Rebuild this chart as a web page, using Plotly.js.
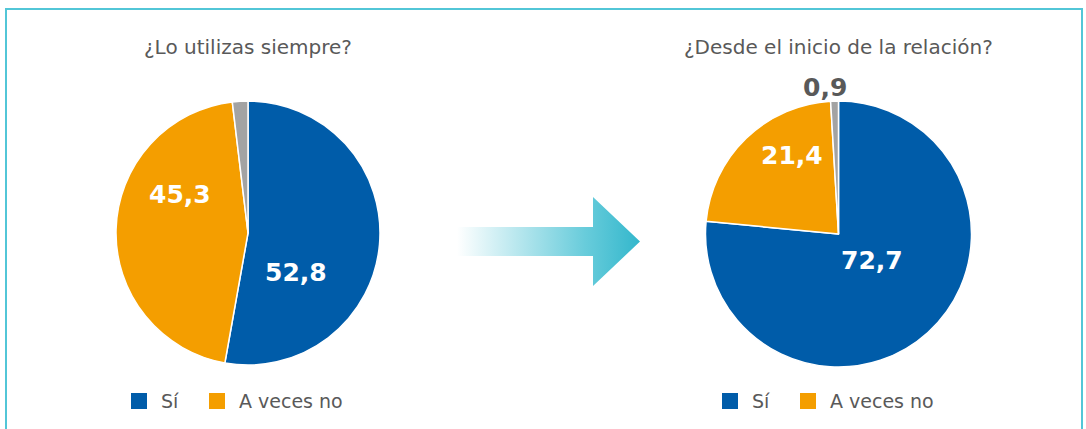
<!DOCTYPE html>
<html>
<head>
<meta charset="utf-8">
<script src="https://cdn.plot.ly/plotly-3.0.1.min.js"></script>
<style>
  html, body { margin: 0; padding: 0; background: #ffffff; }
  #chart { width: 1086px; height: 429px; }
</style>
</head>
<body>
<div id="chart"></div>
<script>
// ---- data ----
const categories = ['Sí', 'A veces no', 'Otros'];
const leftValues = [52.8, 45.3, 1.9];
const rightValues = [72.7, 21.4, 0.9];
const chartTitles = ['¿Lo utilizas siempre?', '¿Desde el inicio de la relación?'];
const legendLabels = ['Sí', 'A veces no'];
const leftShown = [true, true, false];
const rightShown = [true, true, true];

// ---- styles ----
const sliceColors = ['#005CA9', '#F49E00', '#A3A3A3'];
const textGrey = '#595959';
const fontFamily = '"DejaVu Sans", Verdana, sans-serif';
const W = 1086, H = 429;

function pieDomain(cx, cy, r) {
  return {
    x: [(cx - r) / W, (cx + r) / W],
    y: [(H - cy - r) / H, (H - cy + r) / H]
  };
}
const fmt = v => v.toFixed(1).replace('.', ',');

const leftPie = {
  type: 'pie',
  labels: categories,
  values: leftValues,
  sort: false,
  direction: 'clockwise',
  rotation: 0,
  domain: pieDomain(248, 233, 132),
  marker: { colors: sliceColors, line: { color: '#ffffff', width: 1.5 } },
  textinfo: 'none',
  showlegend: false,
  hoverinfo: 'label+value'
};

const rightPie = {
  type: 'pie',
  labels: categories,
  values: rightValues,
  sort: false,
  direction: 'clockwise',
  rotation: 0,
  domain: pieDomain(838.5, 234, 133),
  marker: { colors: sliceColors, line: { color: '#ffffff', width: 1.5 } },
  textinfo: 'none',
  showlegend: false,
  hoverinfo: 'label+value'
};

// decorative arrow (gradient) on a hidden pixel-mapped axis
const arrow = {
  type: 'scatter',
  x: [457, 593, 593, 640, 593, 593, 457, 457],
  y: [227, 227, 197, 241.5, 286, 256, 256, 227],
  mode: 'lines',
  line: { width: 0, color: 'rgba(0,0,0,0)' },
  fill: 'toself',
  fillgradient: {
    type: 'horizontal',
    colorscale: [[0, 'rgba(255,255,255,1)'], [0.7, '#68CCDB'], [1, '#33B7CC']]
  },
  hoverinfo: 'skip',
  showlegend: false
};

const shapes = [
  { type: 'rect', xref: 'x', yref: 'y', x0: 6, x1: 1082, y0: 9, y1: 445,
    line: { color: '#52C6D7', width: 2 }, fillcolor: 'rgba(0,0,0,0)', layer: 'below' }
];
const annotations = [];

// titles
[[248, chartTitles[0]], [838.5, chartTitles[1]]].forEach(([cx, t]) => {
  annotations.push({
    xref: 'x', yref: 'y', x: cx, y: 47, text: t, showarrow: false,
    xanchor: 'center', yanchor: 'middle',
    font: { family: fontFamily, size: 20, color: textGrey }
  });
});

// value labels (positions as in the original)
const leftLabelPos = [[296, 272], [179.5, 194], null];
const rightLabelPos = [[871.5, 260.5], [792, 155], [825, 87]];
const labelColors = ['#ffffff', '#ffffff', textGrey];
function addLabels(values, shown, pos) {
  values.forEach((v, i) => {
    if (!shown[i] || !pos[i]) return;
    annotations.push({
      xref: 'x', yref: 'y', x: pos[i][0], y: pos[i][1], text: fmt(v), showarrow: false,
      xanchor: 'center', yanchor: 'middle',
      font: { family: fontFamily, size: 25, color: labelColors[i], weight: 'bold' }
    });
  });
}
addLabels(leftValues, leftShown, leftLabelPos);
addLabels(rightValues, rightShown, rightLabelPos);

// legends (one below each pie)
const legendStarts = [131, 722];
legendStarts.forEach((x0) => {
  const offsets = [0, 78];
  legendLabels.forEach((lab, i) => {
    const sx = x0 + offsets[i];
    shapes.push({ type: 'rect', xref: 'x', yref: 'y', x0: sx, x1: sx + 16, y0: 393, y1: 409,
      fillcolor: sliceColors[i], line: { width: 0 } });
    annotations.push({
      xref: 'x', yref: 'y', x: sx + 27.5, y: 401, text: lab, showarrow: false,
      xanchor: 'left', yanchor: 'middle',
      font: { family: fontFamily, size: 19, color: textGrey }
    });
  });
});

const layout = {
  width: W, height: H,
  margin: { l: 0, r: 0, t: 0, b: 0, pad: 0 },
  paper_bgcolor: '#ffffff',
  plot_bgcolor: 'rgba(0,0,0,0)',
  xaxis: { range: [0, W], visible: false, fixedrange: true, domain: [0, 1] },
  yaxis: { range: [H, 0], visible: false, fixedrange: true, domain: [0, 1] },
  shapes: shapes,
  annotations: annotations,
  showlegend: false
};

Plotly.newPlot('chart', [arrow, leftPie, rightPie], layout, { displayModeBar: false, staticPlot: true });
</script>
</body>
</html>
